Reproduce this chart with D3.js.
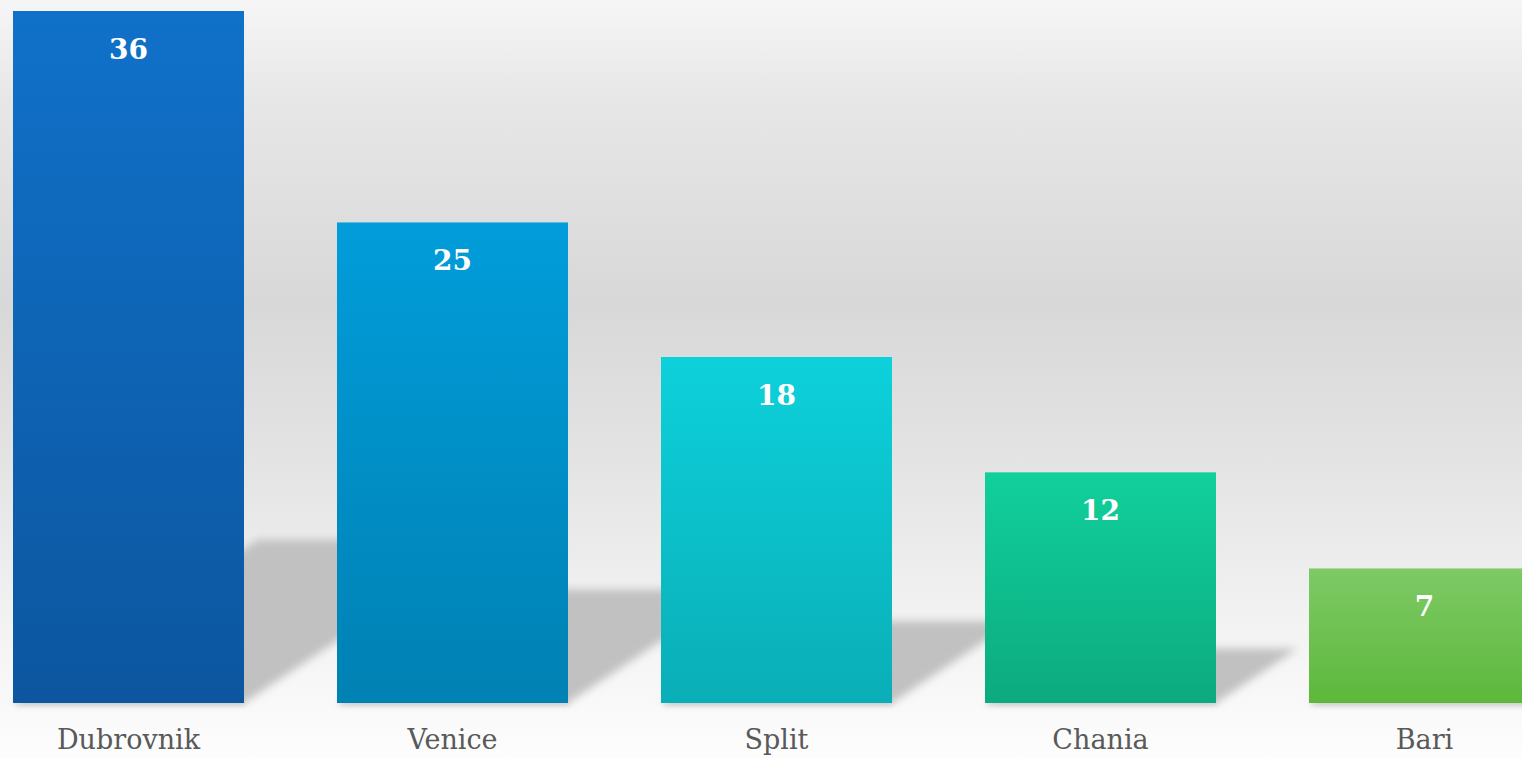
<!DOCTYPE html>
<html><head><meta charset="utf-8">
<script src="https://cdn.jsdelivr.net/npm/d3@7"></script>
<style>
html,body{margin:0;padding:0;overflow:hidden;background:#fafafa;}
svg{display:block;}
</style></head>
<body>
<svg id="chart" width="1522" height="758"></svg>
<script>
const categories = ["Dubrovnik", "Venice", "Split", "Chania", "Bari"];
const values = [36, 25, 18, 12, 7];
const topColors = ["#1071c9", "#019dda", "#0dd1db", "#11d09b", "#7eca66"];
const bottomColors = ["#0c569f", "#0081b3", "#0aaeb7", "#0caa7f", "#5db83b"];

const W = 1522, H = 758;
const svg = d3.select("#chart");
const defs = svg.append("defs");

// background gradient
const bg = defs.append("linearGradient").attr("id","bg").attr("x1",0).attr("y1",0).attr("x2",0).attr("y2",1);
[[0,"#f6f6f6"],[0.13,"#e7e7e7"],[0.4,"#d8d8d8"],[0.6,"#e3e3e3"],[0.8,"#f1f1f1"],[0.93,"#f9f9f9"],[1,"#fdfdfd"]]
  .forEach(([o,c]) => bg.append("stop").attr("offset",o).attr("stop-color",c));
svg.append("rect").attr("width",W).attr("height",H).attr("fill","url(#bg)");

const blur = defs.append("filter").attr("id","blur").attr("x","-20%").attr("y","-20%").attr("width","140%").attr("height","140%");
blur.append("feGaussianBlur").attr("stdDeviation",4);
const blur2 = defs.append("filter").attr("id","blur2").attr("x","-10%").attr("y","-50%").attr("width","120%").attr("height","200%");
blur2.append("feGaussianBlur").attr("stdDeviation",2.5);

categories.forEach((c,i) => {
  const g = defs.append("linearGradient").attr("id","g"+i).attr("x1",0).attr("y1",0).attr("x2",0).attr("y2",1);
  g.append("stop").attr("offset",0).attr("stop-color",topColors[i]);
  g.append("stop").attr("offset",1).attr("stop-color",bottomColors[i]);
});

const x = d3.scaleBand().domain(categories).range([-33.5, 1586.5]).paddingInner(0.287).paddingOuter(0.1435);
const y = d3.scaleLinear().domain([0, 36]).range([703, 11]);
const base = y(0);

const data = categories.map((c,i) => ({c, v: values[i], i}));

// shadows
svg.append("g").selectAll("path").data(data).join("path")
  .attr("d", d => {
    const x0 = x(d.c), x1 = x0 + x.bandwidth();
    const h = (base - y(d.v)) * 0.236;
    const dx = h * 1.5;
    return `M${x0},${base}L${x1},${base}L${x1+dx},${base-h}L${x0+dx},${base-h}Z`;
  })
  .attr("fill","#c1c1c1")
  .attr("filter","url(#blur)");

// subtle floor shadow under bars
svg.append("g").selectAll("rect").data(data).join("rect")
  .attr("x", d => x(d.c) + 2)
  .attr("y", base - 2)
  .attr("width", x.bandwidth())
  .attr("height", 5)
  .attr("fill", "#000").attr("opacity", 0.08)
  .attr("filter","url(#blur2)");

// bars
svg.append("g").selectAll("rect").data(data).join("rect")
  .attr("x", d => x(d.c))
  .attr("y", d => y(d.v))
  .attr("width", x.bandwidth())
  .attr("height", d => base - y(d.v))
  .attr("fill", d => `url(#g${d.i})`);

// value labels
svg.append("g").selectAll("text").data(data).join("text")
  .attr("x", d => x(d.c) + x.bandwidth()/2)
  .attr("y", d => y(d.v) + 48)
  .attr("text-anchor","middle")
  .attr("fill","#ffffff")
  .style("font-family","Georgia, 'DejaVu Serif', serif")
  .style("font-weight","bold")
  .style("font-size","28px")
  .text(d => d.v);

// category axis labels
svg.append("g").selectAll("text").data(data).join("text")
  .attr("x", d => x(d.c) + x.bandwidth()/2)
  .attr("y", 749)
  .attr("text-anchor","middle")
  .attr("fill","#595959")
  .style("font-family","Georgia, 'DejaVu Serif', serif")
  .style("font-size","27px")
  .text(d => d.c);
</script>
</body></html>
